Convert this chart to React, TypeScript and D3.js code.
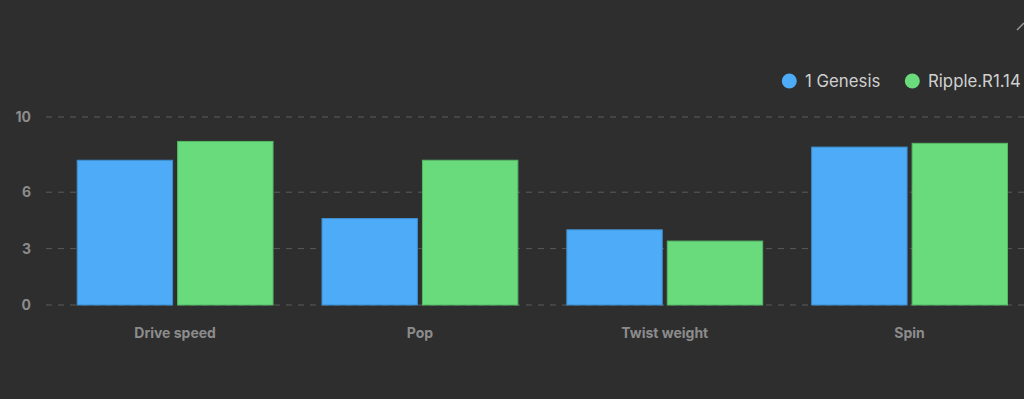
import React from "react";
import * as d3 from "d3";

const categories = ["Drive speed", "Pop", "Twist weight", "Spin"];
const seriesNames = ["1 Genesis", "Ripple.R1.14"];
const genesisValues = [7.7, 4.6, 4.0, 8.4];
const rippleValues = [8.7, 7.7, 3.4, 8.6];
const yTicks = [0, 3, 6, 10];
const colors = ["#4dabf7", "#69db7c"];
const strokes = ["#3d8fd0", "#55b866"];

const W = 1024;
const H = 399;

export default function App() {
  const x = d3.scaleBand<string>().domain(categories).range([52.7, 1032]).paddingInner(0.2).paddingOuter(0.1);
  const xs = d3.scaleBand<string>().domain(seriesNames).range([0, x.bandwidth()]).paddingInner(0.05);
  const y = d3.scaleLinear().domain([0, 10]).range([305, 117]);
  const series = [genesisValues, rippleValues];
  const font = "Inter, 'Noto Sans', sans-serif";

  return (
    <svg width={W} height={H} style={{ position: "fixed", left: 0, top: 0, background: "#2e2e2e" }}>
      <rect x={0} y={0} width={W} height={H} fill="#2e2e2e" />
      <path d="M1017,30 L1024,23" stroke="#9a9a9a" strokeWidth={1.5} fill="none" />
      {yTicks.map((t) => (
        <g key={t}>
          <line x1={46} x2={W} y1={y(t)} y2={y(t)} stroke="#5a5a5a" strokeDasharray="6 6" strokeWidth={1} />
          <text x={31} y={y(t)} dy="0.35em" textAnchor="end" fill="#8c8c8c" fontSize={14} fontWeight={700} fontFamily={font}>
            {t}
          </text>
        </g>
      ))}
      {categories.map((c, i) => (
        <g key={c}>
          {series.map((vals, s) => {
            const bx = (x(c) ?? 0) + (xs(seriesNames[s]) ?? 0);
            return (
              <rect
                key={s}
                x={bx}
                y={y(vals[i])}
                width={xs.bandwidth()}
                height={y(0) - y(vals[i])}
                fill={colors[s]}
                stroke={strokes[s]}
                strokeWidth={1}
              />
            );
          })}
          <text x={(x(c) ?? 0) + x.bandwidth() / 2} y={333} dy="0.35em" textAnchor="middle" fill="#8c8c8c" fontSize={14} fontWeight={700} fontFamily={font}>
            {c}
          </text>
        </g>
      ))}
      <g>
        <circle cx={789.3} cy={81} r={7.5} fill={colors[0]} />
        <text x={805} y={81} dy="0.35em" fill="#d0d0d0" fontSize={16.8} fontFamily={font}>{seriesNames[0]}</text>
        <circle cx={912.3} cy={81} r={7.5} fill={colors[1]} />
        <text x={928} y={81} dy="0.35em" fill="#d0d0d0" fontSize={16.8} fontFamily={font}>{seriesNames[1]}</text>
      </g>
    </svg>
  );
}
